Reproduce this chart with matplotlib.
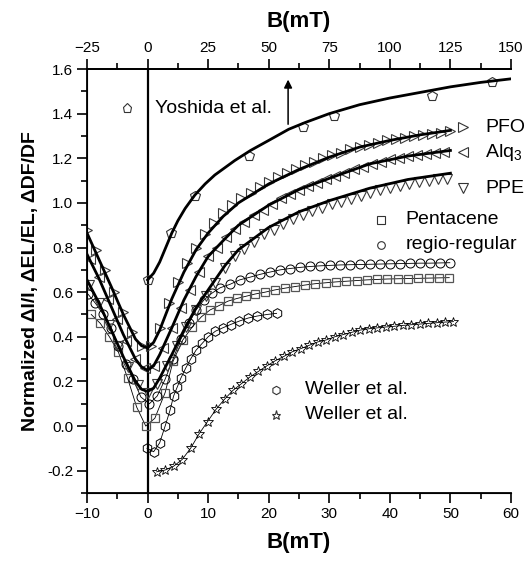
import matplotlib
matplotlib.use("Agg")
import matplotlib.pyplot as plt
from matplotlib.ticker import MultipleLocator

plt.rcParams['font.family'] = ['Liberation Sans', 'DejaVu Sans']
plt.rcParams['mathtext.fontset'] = 'custom'
plt.rcParams['mathtext.rm'] = 'Liberation Sans'

# Yoshida et al. (top axis, mT)
yoshida_b = [0, 9.75, 19.5, 42, 64, 77, 117.5, 142]
yoshida_v = [0.655, 0.865, 1.03, 1.21, 1.34, 1.39, 1.48, 1.54]
yoshida_fit_b = [0, 2.5, 5, 7.5, 10, 12.5, 15.5, 19.5, 23.75, 27.75, 36, 42.5, 50,
                 58.25, 65, 75, 87.5, 100, 112.5, 125, 137.5, 150]
yoshida_fit_v = [0.655, 0.685, 0.735, 0.80, 0.865, 0.92, 0.975, 1.035, 1.085, 1.125,
                 1.19, 1.235, 1.28, 1.33, 1.36, 1.40, 1.44, 1.47, 1.495, 1.52, 1.54, 1.556]

# PFO
pfo_b = [-10, -8.5, -7, -5.5, -4, -2.5, -1, 0.5, 2, 3.5, 5, 6.5, 8, 9.5, 11, 12.5, 14,
         15.5, 17, 18.5, 20, 21.5, 23, 24.5, 26, 27.5, 29, 30.5, 32, 33.5, 35, 36.5,
         38, 39.5, 41, 42.5, 44, 45.5, 47, 48.5, 50]
pfo_v = [0.88, 0.79, 0.70, 0.60, 0.51, 0.42, 0.36, 0.36, 0.44, 0.55, 0.645, 0.73, 0.80,
         0.86, 0.91, 0.955, 0.99, 1.02, 1.045, 1.07, 1.095, 1.115, 1.135, 1.15, 1.17,
         1.185, 1.20, 1.215, 1.225, 1.24, 1.25, 1.26, 1.27, 1.28, 1.285, 1.29, 1.30,
         1.305, 1.31, 1.315, 1.32]
pfo_fit_b = [-10, -8, -6, -4, -2, -1, 0, 1, 2, 4, 6, 8, 10, 12.5, 15, 20, 25, 30, 35,
             40, 45, 50]
pfo_fit_v = [0.865, 0.745, 0.625, 0.50, 0.39, 0.36, 0.35, 0.375, 0.43, 0.57, 0.69,
             0.79, 0.865, 0.94, 1.0, 1.085, 1.15, 1.205, 1.25, 1.28, 1.305, 1.325]

# Alq3
alq_b = [-9.5, -8, -6.5, -5, -3.5, -2, -0.5, 1, 2.5, 4, 5.5, 7, 8.5, 10, 11.5, 13, 14.5,
         16, 17.5, 19, 20.5, 22, 23.5, 25, 26.5, 28, 29.5, 31, 32.5, 34, 35.5, 37,
         38.5, 40, 41.5, 43, 44.5, 46, 47.5, 49]
alq_v = [0.75, 0.67, 0.57, 0.48, 0.38, 0.30, 0.26, 0.27, 0.35, 0.44, 0.53, 0.61, 0.69,
         0.76, 0.80, 0.845, 0.885, 0.915, 0.945, 0.97, 0.995, 1.02, 1.04, 1.06, 1.075,
         1.09, 1.105, 1.12, 1.135, 1.15, 1.16, 1.175, 1.185, 1.195, 1.20, 1.21, 1.215,
         1.22, 1.225, 1.23]
alq_fit_b = [-10, -8, -6, -4, -2, -1, 0, 1, 2, 4, 6, 8, 10, 12.8, 15, 20, 25, 30, 36.7,
             43, 50]
alq_fit_v = [0.77, 0.66, 0.535, 0.41, 0.30, 0.265, 0.25, 0.27, 0.32, 0.44, 0.565, 0.67,
             0.76, 0.84, 0.90, 0.99, 1.06, 1.11, 1.175, 1.21, 1.235]

# PPE
ppe_b = [-9.6, -8, -6.4, -4.8, -3.2, -1.6, 0, 1.6, 3.2, 4.8, 6.4, 8, 9.6, 11.2, 12.8,
         14.4, 16, 17.6, 19.2, 20.8, 22.4, 24, 25.6, 27.2, 28.8, 30.4, 32, 33.6, 35.2,
         36.8, 38.4, 40, 41.6, 43.2, 44.8, 46.4, 48, 49.5]
ppe_v = [0.63, 0.55, 0.455, 0.36, 0.265, 0.185, 0.15, 0.19, 0.27, 0.36, 0.445, 0.52,
         0.585, 0.64, 0.71, 0.76, 0.795, 0.827, 0.859, 0.88, 0.904, 0.926, 0.946, 0.962,
         0.978, 0.993, 1.003, 1.016, 1.03, 1.046, 1.056, 1.066, 1.077, 1.086, 1.093,
         1.10, 1.105, 1.106]
ppe_fit_b = [-10, -8, -6, -4, -2, -1, 0, 1, 2, 4, 6, 8, 10, 12.8, 15, 20, 25, 30, 36.7,
             43, 50]
ppe_fit_v = [0.655, 0.55, 0.43, 0.31, 0.20, 0.165, 0.155, 0.17, 0.215, 0.32, 0.43, 0.53,
             0.61, 0.72, 0.79, 0.89, 0.96, 1.01, 1.066, 1.105, 1.133]

# Pentacene
pent_b = [-9.3, -7.8, -6.3, -4.8, -3.3, -1.8, -0.3, 1.2, 2.9, 4.2, 5.8, 7.4, 8.9, 10.3,
          11.8, 13.3, 14.8, 16.3, 17.8, 19.4, 21.0, 22.7, 24.3, 26.0, 27.7, 29.4, 31.1,
          32.8, 34.5, 36.2, 37.9, 39.6, 41.3, 43.0, 44.7, 46.4, 48.1, 49.8]
pent_v = [0.50, 0.46, 0.40, 0.33, 0.215, 0.085, 0.0, 0.035, 0.15, 0.29, 0.385, 0.445,
          0.49, 0.52, 0.54, 0.56, 0.572, 0.582, 0.592, 0.60, 0.61, 0.618, 0.625, 0.632,
          0.638, 0.642, 0.646, 0.649, 0.652, 0.655, 0.657, 0.659, 0.66, 0.661, 0.662,
          0.663, 0.664, 0.665]

# regio-regular
rr_b = [-9.8, -8.6, -7.3, -6.0, -4.8, -3.6, -2.4, -1.1, 0.3, 1.6, 2.9, 4.2, 5.5, 6.8,
        8.0, 9.3, 10.6, 12.0, 13.6, 15.2, 16.9, 18.6, 20.2, 21.9, 23.5, 25.2, 26.8, 28.5,
        30.1, 31.8, 33.4, 35.1, 36.7, 38.4, 40.0, 41.7, 43.3, 45.0, 46.6, 48.3, 49.9]
rr_v = [0.59, 0.55, 0.50, 0.44, 0.36, 0.28, 0.21, 0.13, 0.10, 0.135, 0.21, 0.30, 0.39,
        0.46, 0.52, 0.565, 0.595, 0.62, 0.635, 0.655, 0.667, 0.68, 0.69, 0.70, 0.706,
        0.711, 0.715, 0.718, 0.72, 0.722, 0.723, 0.724, 0.725, 0.726, 0.727, 0.728,
        0.729, 0.73, 0.73, 0.731, 0.732]

# Weller et al. (hexagons)
wh_b = [-0.1, 1.0, 2.0, 2.9, 3.7, 4.3, 4.9, 5.5, 6.3, 7.1, 8.0, 9.0, 10.0, 11.2, 12.4,
        13.7, 15.1, 16.6, 18.1, 19.7, 21.3]
wh_v = [-0.10, -0.115, -0.075, 0.0, 0.07, 0.135, 0.175, 0.215, 0.26, 0.30, 0.34, 0.37,
        0.40, 0.425, 0.44, 0.455, 0.47, 0.484, 0.493, 0.50, 0.505]

# Weller et al. (stars)
ws_b = [1.5, 2.9, 4.3, 5.7, 7.1, 8.5, 9.9, 11.3, 12.7, 14.1, 15.5, 16.9, 18.3, 19.7,
        21.1, 22.5, 23.9, 25.3, 26.7, 28.1, 29.5, 30.9, 32.3, 33.7, 35.1, 36.5, 37.9,
        39.3, 40.7, 42.1, 43.5, 44.9, 46.3, 47.7, 49.1, 50.5]
ws_v = [-0.205, -0.197, -0.18, -0.15, -0.10, -0.035, 0.02, 0.075, 0.12, 0.16, 0.19,
        0.22, 0.245, 0.27, 0.293, 0.312, 0.333, 0.347, 0.362, 0.377, 0.386, 0.40, 0.41,
        0.42, 0.43, 0.436, 0.44, 0.444, 0.447, 0.451, 0.454, 0.457, 0.46, 0.463, 0.466,
        0.468]

fig = plt.figure(figsize=(5.26, 5.61), dpi=100)
ax = fig.add_axes([0.1654, 0.1212, 0.8061, 0.7558])

edge = '#3a3a3a'
mk = dict(mfc='none', ls='none', mew=0.8)

# thin lines through measured points
ax.plot(pent_b, pent_v, color='black', lw=0.6, marker='s', ms=6, mfc='none', mec='#555555', mew=0.9)
ax.plot(rr_b, rr_v, color='black', lw=0.6, marker='o', ms=6.5, mfc='none', mec='black', mew=0.7)
ax.plot(wh_b, wh_v, color='black', lw=0.6, marker='h', ms=7, mfc='none', mec='black', mew=0.7)
ax.plot(ws_b, ws_v, color='black', lw=0.6, marker='*', ms=7, mfc='none', mec='black', mew=0.6)

ax.plot(pfo_b, pfo_v, marker='>', ms=7, mec=edge, **mk)
ax.plot(alq_b, alq_v, marker='<', ms=7, mec=edge, **mk)
ax.plot(ppe_b, ppe_v, marker='v', ms=7.5, mec=edge, **mk)

ax.plot(pfo_fit_b, pfo_fit_v, color='black', lw=2)
ax.plot(alq_fit_b, alq_fit_v, color='black', lw=2)
ax.plot(ppe_fit_b, ppe_fit_v, color='black', lw=2)

ax.axvline(0, color='black', lw=1.6, zorder=1)

ax.set_xlim(-10, 60)
ax.set_ylim(-0.3, 1.6)
ax.xaxis.set_major_locator(MultipleLocator(10))
ax.xaxis.set_minor_locator(MultipleLocator(5))
ax.yaxis.set_major_locator(MultipleLocator(0.2))
ax.yaxis.set_minor_locator(MultipleLocator(0.1))
ax.yaxis.set_major_formatter(plt.FuncFormatter(lambda v, p: f"{v:.1f}"))
ax.tick_params(which='major', direction='out', length=7, width=1.2, labelsize=11, pad=3)
ax.tick_params(which='minor', direction='out', length=4, width=1.2)
ax.tick_params(right=False, top=False)
for s in ['left', 'bottom', 'top']:
    ax.spines[s].set_linewidth(1.3)
ax.spines['right'].set_visible(False)

ax.set_xlabel('B(mT)', fontsize=16, fontweight='bold', labelpad=8)
ax.set_ylabel('Normalized ΔI/I, ΔEL/EL, ΔDF/DF', fontsize=14, fontweight='bold', labelpad=6)

# top axis for Yoshida et al.
ax2 = ax.twiny()
ax2.set_xlim(-25, 150)
ax2.xaxis.set_major_locator(MultipleLocator(25))
ax2.xaxis.set_minor_locator(MultipleLocator(12.5))
ax2.tick_params(which='major', direction='out', length=7, width=1.2, labelsize=11, pad=3)
ax2.tick_params(which='minor', direction='out', length=4, width=1.2)
ax2.spines['right'].set_visible(False)
ax2.spines['top'].set_linewidth(1.3)
ax2.set_xlabel('B(mT)', fontsize=16, fontweight='bold', labelpad=10)
ax2.plot(yoshida_b, yoshida_v, marker='p', ms=7.5, mec='#333333', **mk)
ax2.plot(yoshida_fit_b, yoshida_fit_v, color='black', lw=2)
ax2.annotate('', xy=(58, 1.565), xytext=(58, 1.34),
             arrowprops=dict(arrowstyle='-|>', color='black', lw=1.1, mutation_scale=12))

# labels with symbol keys (axes fraction)
keys = [
    ('p', 0.094, 0.160, 0.908, 'Yoshida et al.', 6.5),
    ('>', 0.887, 0.939, 0.863, 'PFO', 7),
    ('<', 0.887, 0.939, 0.804, 'Alq$_3$', 7),
    ('v', 0.887, 0.939, 0.719, 'PPE', 7),
    ('s', 0.693, 0.752, 0.644, 'Pentacene', 5.5),
    ('o', 0.693, 0.752, 0.585, 'regio-regular', 5.5),
    ('h', 0.446, 0.514, 0.243, 'Weller et al.', 6),
    ('*', 0.446, 0.514, 0.184, 'Weller et al.', 6.5),
]
for m, mx, tx, ty, label, size in keys:
    ax2.plot([mx], [ty], transform=ax2.transAxes, marker=m, ms=size, mfc='none',
             mec='#333333', mew=0.8, clip_on=False)
    ax2.text(tx, ty, label, transform=ax2.transAxes, fontsize=14, va='center',
             ha='left', clip_on=False)

fig.savefig('out.png', dpi=100)
